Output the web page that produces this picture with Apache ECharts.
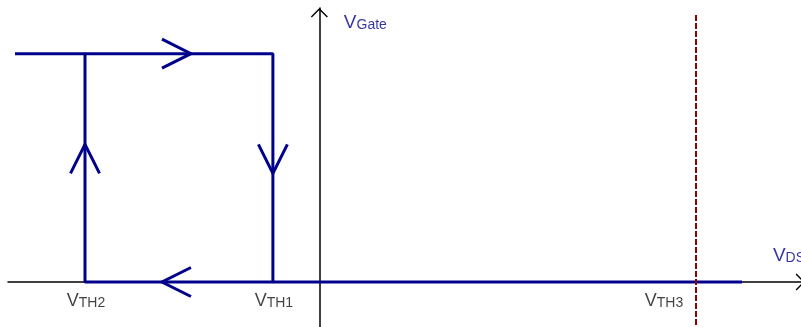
<!DOCTYPE html>
<html>
<head>
<meta charset="utf-8">
<script src="https://cdn.jsdelivr.net/npm/echarts@6/dist/echarts.min.js"></script>
<style>
  html, body { margin: 0; padding: 0; background: #fff; }
  #chart { width: 801px; height: 327px; }
</style>
</head>
<body>
<div id="chart"></div>
<script>
// gate voltage hysteresis against V_DS
var xRange = [-6.7, 10.364];
var yRange = [-0.197, 1.2];
var thresholds = [-5.043, -1.0, 8.105];      // VTH2, VTH1, VTH3
var thresholdNames = ['TH2', 'TH1', 'TH3'];
var loopPath = [[-6.55, 1], [-1.0, 1], [-1.0, 0], [-5.043, 0], [-5.043, 1]];
var offPath = [[-1.0, 0], [9.094, 0]];
var vth3Line = [[8.105, 1.169], [8.105, -0.197]];
var arrowPoints = [[-3.075, 1], [-1.0, 0.539], [-3.075, 0], [-5.043, 0.539]];
var arrowAngles = [0, -90, 180, 90];
var axisNames = ['Gate', 'DS'];

var blue = '#00008B';
var font = '"Liberation Sans", Arial, sans-serif';
var axisArrow = 'path://M0,8.4L8.5,0L17,8.4L16,9.4L8.5,2L1,9.4Z';

function richStyle(color, big) {
  return {
    v: { fontSize: big, lineHeight: big + 2, verticalAlign: 'bottom', color: color, fontFamily: font },
    s: { fontSize: 14, lineHeight: 13, verticalAlign: 'bottom', color: color, fontFamily: font }
  };
}

function labelOpt(color, big) {
  return {
    show: true,
    position: 'inside',
    color: color,
    textBorderWidth: 0,
    textBorderColor: 'transparent',
    formatter: function (p) { return '{v|V}{s|' + p.name + '}'; },
    rich: richStyle(color, big)
  };
}

function axisOpt(range, tipShift) {
  return {
    type: 'value',
    min: range[0],
    max: range[1],
    axisLine: {
      onZero: true,
      lineStyle: { color: '#000', width: 1.5 },
      symbol: ['none', axisArrow],
      symbolSize: [17, 9.4],
      symbolOffset: [0, -4.7 + tipShift]
    },
    axisTick: { show: false },
    axisLabel: { show: false },
    splitLine: { show: false }
  };
}

var chart = echarts.init(document.getElementById('chart'));
chart.setOption({
  animation: false,
  grid: { left: 8, right: 0, top: 8, bottom: 0 },
  xAxis: axisOpt(xRange, 4),
  yAxis: axisOpt(yRange, 0),
  series: [
    {
      type: 'line',
      data: loopPath,
      symbol: 'none',
      silent: true,
      lineStyle: { color: blue, width: 3 }
    },
    {
      type: 'line',
      data: offPath,
      symbol: 'none',
      silent: true,
      lineStyle: { color: blue, width: 3 }
    },
    {
      type: 'line',
      data: vth3Line,
      symbol: 'none',
      silent: true,
      z: 4,
      lineStyle: { color: '#8B0000', width: 2, type: [6, 2] }
    },
    {
      // direction arrows on the loop
      type: 'scatter',
      data: arrowPoints,
      symbol: 'path://M0,0L29,14.5L0,29',
      symbolSize: [29, 29],
      symbolRotate: function (val, params) { return arrowAngles[params.dataIndex]; },
      silent: true,
      z: 3,
      itemStyle: { color: 'none', borderColor: blue, borderWidth: 3, opacity: 1 }
    },
    {
      type: 'scatter',
      symbolSize: 0,
      silent: true,
      z: 5,
      data: thresholds.map(function (x, i) {
        return { value: [x, 0], name: thresholdNames[i], label: { offset: i === 2 ? [-32, 18] : [1, 18] } };
      }),
      label: labelOpt('#111', 18)
    },
    {
      type: 'scatter',
      symbolSize: 0,
      silent: true,
      z: 5,
      data: [
        { value: [0, yRange[1]], name: axisNames[0], label: { offset: [46, 14] } },
        { value: [xRange[1], 0], name: axisNames[1], label: { offset: [-12, -27] } }
      ],
      label: labelOpt(blue, 19)
    }
  ]
});
</script>
</body>
</html>
